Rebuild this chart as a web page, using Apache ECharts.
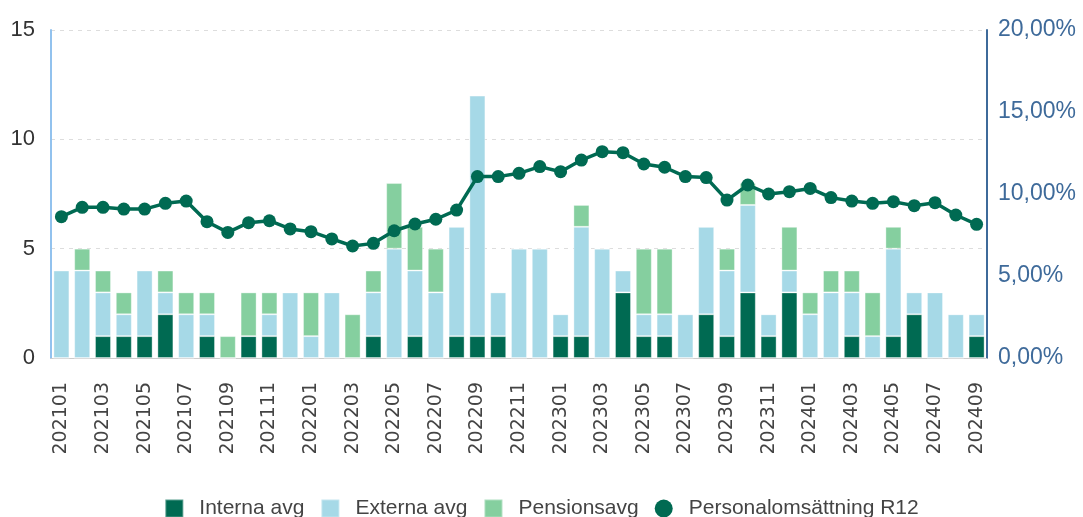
<!DOCTYPE html>
<html>
<head>
<meta charset="utf-8">
<script src="https://cdn.jsdelivr.net/npm/echarts@6/dist/echarts.min.js"></script>
<style>
  html, body { margin: 0; padding: 0; background: #fff; }
  #chart { width: 1083px; height: 517px; }
</style>
</head>
<body>
<div id="chart"></div>
<script>
var months = ['202101','202102','202103','202104','202105','202106','202107','202108','202109','202110','202111','202112',
	'202201','202202','202203','202204','202205','202206','202207','202208','202209','202210','202211','202212',
	'202301','202302','202303','202304','202305','202306','202307','202308','202309','202310','202311','202312',
	'202401','202402','202403','202404','202405','202406','202407','202408','202409'];

var interna = [0,0,1,1,1,2,0,1,0,1,1,0, 0,0,0,1,0,1,0,1,1,1,0,0, 1,1,0,3,1,1,0,2,1,3,1,3, 0,0,1,0,1,2,0,0,1];
var externa = [4,4,2,1,3,1,2,1,0,0,1,3, 1,3,0,2,5,3,3,5,11,2,5,5, 1,5,5,1,1,1,2,4,3,4,1,1, 2,3,2,1,4,1,3,2,1];
var pension = [0,1,1,1,0,1,1,1,1,2,1,0, 2,0,2,1,3,2,2,0,0,0,0,0, 0,1,0,0,3,3,0,0,1,1,0,2, 1,1,1,2,1,0,0,0,0];

// Personalomsättning R12 i procent
var omsattning = [8.62,9.19,9.19,9.08,9.08,9.43,9.57,8.31,7.66,8.25,8.37,7.87,
	7.70,7.26,6.83,6.99,7.76,8.17,8.46,9.02,11.06,11.06,11.26,11.67,
	11.36,12.07,12.58,12.52,11.83,11.63,11.06,11.00,9.63,10.55,10.00,10.14,
	10.34,9.78,9.57,9.43,9.53,9.29,9.47,8.72,8.15];

var leftTicks = [0, 5, 10, 15];

var cDark = '#006a52';
var cBlue = '#a6d9e7';
var cGreen = '#85cf9f';
var cAxis = '#3e6a9a';

var chart = echarts.init(document.getElementById('chart'));

function barSerie(name, data, color) {
	return {
		name: name,
		type: 'bar',
		stack: 'avg',
		barWidth: 16,
		data: data,
		itemStyle: {
			color: color,
			borderColor: 'rgba(255,255,255,0.35)',
			borderWidth: 1
		}
	};
}

var option = {
	backgroundColor: '#fff',
	textStyle: { fontFamily: 'Arial, "Liberation Sans", sans-serif' },
	grid: { left: 51, right: 96, top: 30, bottom: 159 },
	legend: {
		top: 493,
		left: 'center',
		itemWidth: 18,
		itemHeight: 18,
		itemGap: 16,
		textStyle: { fontSize: 21, color: '#444', padding: [0, 0, 0, 11] },
		data: [
			{ name: 'Interna avg', icon: 'rect' },
			{ name: 'Externa avg', icon: 'rect' },
			{ name: 'Pensionsavg', icon: 'rect' },
			{ name: 'Personalomsättning R12', icon: 'circle' }
		]
	},
	xAxis: {
		type: 'category',
		data: months,
		axisLine: { lineStyle: { color: '#ccc' } },
		axisTick: { alignWithLabel: true, interval: 1, length: 6, lineStyle: { color: '#bbb' } },
		axisLabel: {
			rotate: 90, interval: 1, fontSize: 19, color: '#444', margin: 24,
			fontFamily: '"DejaVu Sans", sans-serif'
		}
	},
	yAxis: [{
		type: 'value',
		min: leftTicks[0],
		max: leftTicks[leftTicks.length - 1],
		interval: 5,
		axisLine: { show: true, lineStyle: { color: '#92c2ee', width: 2 } },
		axisLabel: { fontSize: 22, color: '#333', margin: 16 },
		splitLine: { lineStyle: { type: [4, 5], color: '#ddd' } }
	}, {
		type: 'value',
		min: 0,
		max: 20,
		interval: 5,
		position: 'right',
		axisLine: { show: true, lineStyle: { color: cAxis, width: 2 } },
		axisLabel: {
			fontSize: 23,
			color: cAxis,
			margin: 11,
			formatter: function (v) { return v.toFixed(2).replace('.', ',') + '%'; }
		},
		splitLine: { show: false }
	}],
	series: [
		barSerie('Interna avg', interna, cDark),
		barSerie('Externa avg', externa, cBlue),
		barSerie('Pensionsavg', pension, cGreen),
		{
			name: 'Personalomsättning R12',
			type: 'line',
			yAxisIndex: 1,
			data: omsattning,
			symbol: 'circle',
			symbolSize: 13,
			z: 5,
			lineStyle: { color: cDark, width: 3.5 },
			itemStyle: { color: cDark }
		}
	]
};

chart.setOption(option);
</script>
</body>
</html>
